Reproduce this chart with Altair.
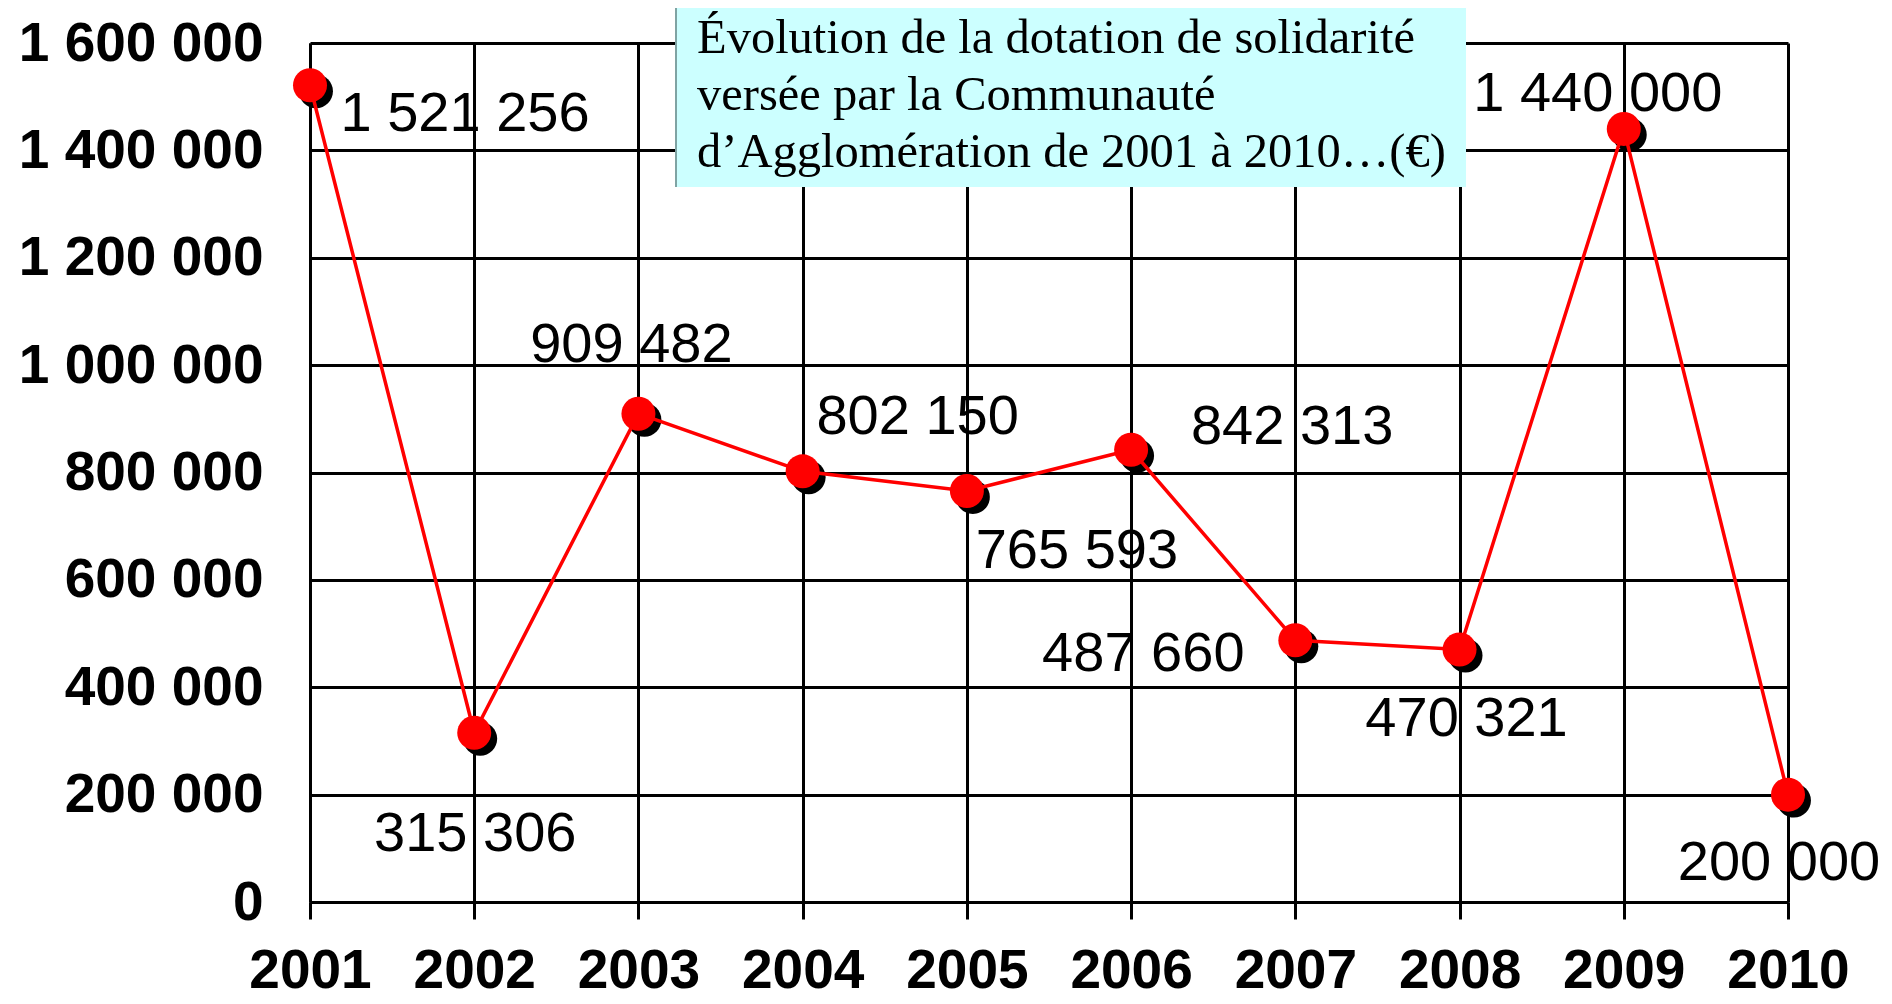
import altair as alt
import pandas as pd

# ---- data ----
YEARS = [2001, 2002, 2003, 2004, 2005, 2006, 2007, 2008, 2009, 2010]
VALUES = [1521256, 315306, 909482, 802150, 765593, 842313, 487660, 470321, 1440000, 200000]
Y_TICKS = [0, 200000, 400000, 600000, 800000, 1000000, 1200000, 1400000, 1600000]
TITLE_LINES = [
    "Évolution de la dotation de solidarité",
    "versée par la Communauté",
    "d’Agglomération de 2001 à 2010…(€)",
]

# ---- label placement (pixel offsets from each point: style, not data) ----
LABEL_DX = [155, 1, -7, 115, 110, 161, -152, 7, -26, -9]
LABEL_DY = [46, 118, -52, -37, 77, -6, 31, 87, -18, 85]


def fr(v):
    return f"{v:,}".replace(",", " ")


df = pd.DataFrame({"year": YEARS, "value": VALUES, "label": [fr(v) for v in VALUES]})

AX_FONT = "Liberation Sans"

x_enc = alt.X(
    "year:Q",
    scale=alt.Scale(domain=[2001, 2010], nice=False, zero=False),
    axis=alt.Axis(
        values=YEARS, format="d", title=None,
        grid=True, gridColor="black", gridWidth=3, gridOpacity=1,
        domainColor="black", domainWidth=3,
        tickColor="black", tickWidth=3, tickSize=17,
        labelFont=AX_FONT, labelFontWeight="bold", labelFontSize=55, labelColor="black",
        labelBaseline="alphabetic", labelPadding=68, labelFlush=False, labelOverlap=False,
        labelLimit=1000,
    ),
)
y_enc = alt.Y(
    "value:Q",
    scale=alt.Scale(domain=[0, 1600000], nice=False),
    axis=alt.Axis(
        values=Y_TICKS, title=None,
        grid=True, gridColor="black", gridWidth=3, gridOpacity=1,
        domainColor="black", domainWidth=3,
        ticks=False, tickSize=0,
        labelExpr="replace(format(datum.value, ',d'), regexp(',', 'g'), ' ')",
        labelFont=AX_FONT, labelFontWeight="bold", labelFontSize=55, labelColor="black",
        labelPadding=47, labelOverlap=False, labelFlush=False, labelLimit=1000,
    ),
)

base = alt.Chart(df)

SIZE = 1156
shadow_path = "M 1.35,0.35 A 1,1 0 1,1 -0.65,0.35 A 1,1 0 1,1 1.35,0.35 Z"

shadow = base.mark_point(shape=shadow_path, filled=True, size=SIZE, color="black",
                         opacity=1, strokeWidth=0).encode(x=x_enc, y=y_enc)
line = base.mark_line(color="#FF0000", strokeWidth=3.5).encode(x=x_enc, y=y_enc)
points = base.mark_circle(size=SIZE, color="#FF0000", opacity=1).encode(x=x_enc, y=y_enc)

labels = []
for yr, dx, dy in zip(YEARS, LABEL_DX, LABEL_DY):
    labels.append(
        base.transform_filter(alt.datum.year == yr)
        .mark_text(align="center", baseline="alphabetic", dx=dx, dy=dy,
                   font=AX_FONT, fontSize=56, color="black")
        .encode(x=x_enc, y=y_enc, text="label:N")
    )

title_df = pd.DataFrame({"t": ["\n".join(TITLE_LINES)]})
box = alt.Chart(title_df).mark_rect(color="#CCFFFF", opacity=1).encode(
    x=alt.value(366), x2=alt.value(1156), y=alt.value(-60), y2=alt.value(144)
)
box_edge = alt.Chart(title_df).mark_rule(color="#7FA3A3", strokeWidth=2).encode(
    x=alt.value(366), y=alt.value(-60), y2=alt.value(144)
)
title_text = alt.Chart(title_df).mark_text(
    align="left", baseline="alphabetic", font="Liberation Serif", fontSize=48.5,
    lineHeight=57, lineBreak="\n", color="black"
).encode(x=alt.value(387), y=alt.value(10), text="t:N")

chart = alt.layer(shadow, line, points, *labels, box, box_edge, title_text).properties(
    width=1478,
    height=859,
    autosize=alt.AutoSizeParams(type="none"),
    padding={"left": 302, "top": 35, "right": 96, "bottom": 96},
    background="white",
).configure_view(stroke=None)

chart.save("out.html", embed_options={"renderer": "svg", "actions": False})
